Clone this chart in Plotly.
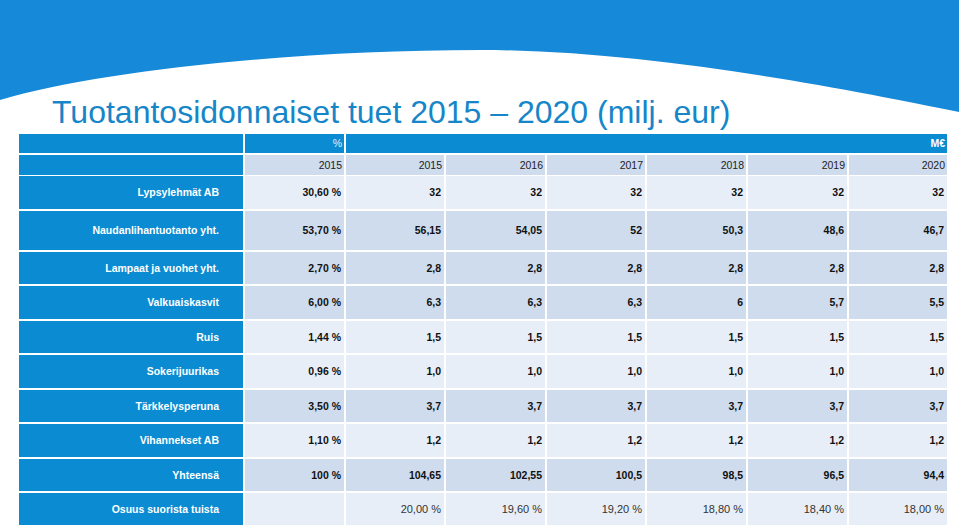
import plotly.graph_objects as go

# ---------------- data ----------------
categories = ["Lypsylehmät AB", "Naudanlihantuotanto yht.", "Lampaat ja vuohet yht.",
              "Valkuaiskasvit", "Ruis", "Sokerijuurikas", "Tärkkelysperuna",
              "Vihannekset AB", "Yhteensä", "Osuus suorista tuista"]
share_2015 = ["30,60 %", "53,70 %", "2,70 %", "6,00 %", "1,44 %", "0,96 %",
              "3,50 %", "1,10 %", "100 %", ""]
years = ["2015", "2016", "2017", "2018", "2019", "2020"]
v2015 = ["32", "56,15", "2,8", "6,3", "1,5", "1,0", "3,7", "1,2", "104,65", "20,00 %"]
v2016 = ["32", "54,05", "2,8", "6,3", "1,5", "1,0", "3,7", "1,2", "102,55", "19,60 %"]
v2017 = ["32", "52", "2,8", "6,3", "1,5", "1,0", "3,7", "1,2", "100,5", "19,20 %"]
v2018 = ["32", "50,3", "2,8", "6", "1,5", "1,0", "3,7", "1,2", "98,5", "18,80 %"]
v2019 = ["32", "48,6", "2,8", "5,7", "1,5", "1,0", "3,7", "1,2", "96,5", "18,40 %"]
v2020 = ["32", "46,7", "2,8", "5,5", "1,5", "1,0", "3,7", "1,2", "94,4", "18,00 %"]
year_values = [v2015, v2016, v2017, v2018, v2019, v2020]
title_text = "Tuotantosidonnaiset tuet 2015 – 2020 (milj. eur)"
pct_label = "%"
eur_label = "M€"

# ---------------- layout geometry (pixels) ----------------
W, H = 959, 527
FONT = "Liberation Sans, Arial, sans-serif"
BLUE = "#0b8bd1"
WAVE = "#1689d8"
LIGHT = "#e8eef7"
DARK = "#cedcee"
TITLE_C = "#1686c8"

label_col = (19, 243)
pct_col = (245, 344)
year_cols = [(346, 444), (446, 545), (547, 645), (647, 746), (748, 847), (849, 947)]
head1 = (134, 153)
head2 = (155, 175)
rows = [(176, 209), (211, 250), (252, 284), (286, 319), (321, 353),
        (355, 388), (390, 422), (424, 457), (459, 491), (493, 525)]
row_dark = [False, True, True, True, False, False, True, False, True, False]

shapes = []
# top wave
shapes.append(dict(type="path", xref="x", yref="y",
                   path="M 0,0 L 959,0 L 959,112 C 850,90 650,50 480,50 C 300,50 100,70 0,100 Z",
                   fillcolor=WAVE, line=dict(width=0), layer="below"))


def rect(x0, x1, y0, y1, color):
    shapes.append(dict(type="rect", xref="x", yref="y", x0=x0, x1=x1, y0=y0, y1=y1,
                       fillcolor=color, line=dict(width=0), layer="below"))


# header row 1
rect(label_col[0], label_col[1], head1[0], head1[1], BLUE)
rect(pct_col[0], pct_col[1], head1[0], head1[1], BLUE)
rect(year_cols[0][0], year_cols[-1][1], head1[0], head1[1], BLUE)
# header row 2
rect(label_col[0], label_col[1], head2[0], head2[1], BLUE)
rect(pct_col[0], pct_col[1], head2[0], head2[1], DARK)
for c in year_cols:
    rect(c[0], c[1], head2[0], head2[1], DARK)
# body
for (r0, r1), dk in zip(rows, row_dark):
    rect(label_col[0], label_col[1], r0, r1, BLUE)
    col = DARK if dk else LIGHT
    rect(pct_col[0], pct_col[1], r0, r1, col)
    for c in year_cols:
        rect(c[0], c[1], r0, r1, col)

fig = go.Figure()

PAD = 3


def mid(r):
    return (r[0] + r[1]) / 2 + 1


def add_text(xs, ys, texts, color, bold, size=10.5):
    fig.add_trace(go.Scatter(
        x=xs, y=ys, text=[("<b>%s</b>" % t if (bold and t) else t) for t in texts],
        mode="text", textposition="middle left",
        textfont=dict(family=FONT, size=size, color=color),
        hoverinfo="skip", showlegend=False))


# row labels
add_text([label_col[1] - 24] * len(categories), [mid(r) for r in rows], categories, "white", True)
# header texts
add_text([pct_col[1] - PAD + 1], [mid(head1)], [pct_label], "#e3f1fb", False)
add_text([year_cols[-1][1] - PAD + 1], [mid(head1)], [eur_label], "white", True)
add_text([pct_col[1] - PAD + 1] + [c[1] - PAD + 1 for c in year_cols], [mid(head2)] * 7,
         [years[0]] + years, "#222222", False)
# share column
add_text([pct_col[1] - PAD] * 9, [mid(r) for r in rows[:9]], share_2015[:9], "#111111", True)
# year columns
for c, vals in zip(year_cols, year_values):
    add_text([c[1] - PAD] * 9, [mid(r) for r in rows[:9]], vals[:9], "#111111", True)
    add_text([c[1] - PAD], [mid(rows[9])], [vals[9]], "#333333", False, 11)

# title
fig.add_trace(go.Scatter(
    x=[52], y=[115], text=[title_text], mode="text", textposition="middle right",
    textfont=dict(family=FONT, size=32, color=TITLE_C),
    hoverinfo="skip", showlegend=False))

fig.update_layout(
    width=W, height=H,
    margin=dict(l=0, r=0, t=0, b=0),
    paper_bgcolor="white", plot_bgcolor="white",
    xaxis=dict(range=[0, W], visible=False, fixedrange=True),
    yaxis=dict(range=[H, 0], visible=False, fixedrange=True),
    shapes=shapes,
    showlegend=False,
)

fig.write_html("out.html", config={"displayModeBar": False},
               post_script="document.body.style.margin='0';document.body.style.overflow='hidden';")
